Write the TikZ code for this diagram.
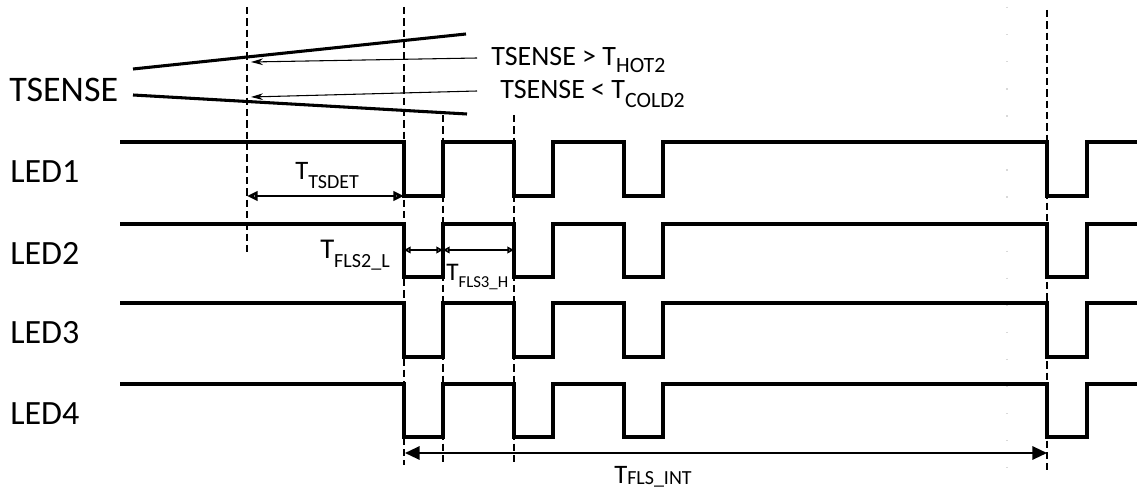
\documentclass[tikz,border=0pt]{standalone}
\usepackage{fontspec}
\setmainfont{Carlito}
\usepackage{graphicx}
\usetikzlibrary{arrows.meta}

% indice abaissé (texte en indice)
\newcommand{\indice}[3][0.55]{\raisebox{-#1ex}{\scalebox{#2}{#3}}}

\begin{document}
\begin{tikzpicture}[x=0.75pt,y=-0.75pt,
		signal/.style={line width=2.9pt},
		rampe/.style={line width=2.3pt},
		repere/.style={line width=1.1pt, dash pattern=on 5.5pt off 3pt},
		fleche/.style={line width=0.8pt, -{Stealth[length=9pt,width=5pt]}},
		cotelarge/.style={line width=2pt, {Triangle[open,length=8pt,width=7pt]}-{Triangle[open,length=8pt,width=7pt]}},
		cote/.style={line width=1.4pt, {Triangle[open,length=5pt,width=5pt]}-{Triangle[open,length=5pt,width=5pt]}},
		cotelong/.style={line width=1.6pt, {Triangle[length=11pt,width=10pt]}-{Triangle[length=11pt,width=10pt]}},
		etiq/.style={inner sep=0, anchor=base west, font=\fontsize{20}{24}\selectfont}]
		% cadre de l'image
		\useasboundingbox (0,0) rectangle (1137,491);

		% lignes de repère verticales (tirets)
		\foreach \x/\ya/\yb in {247/7/255, 404/7/465, 443/115/465, 514/115/465, 1047/10/470}{%
			\draw[repere] (\x,\ya) -- (\x,\yb);
		}
		% repère très pâle
		\draw[gray!30, line width=1pt, dash pattern=on 1pt off 19.3pt] (1007,7) -- (1007,470);

		% TSENSE : deux rampes
		\node[inner sep=0, anchor=west, font=\fontsize{27}{32}\selectfont] (tsense) at (9,90) {TSENSE};
		\draw[rampe] (133,69) -- (466,34);
		\draw[rampe] (133,95) -- (467,114);

		% seuils et flèches vers le repère
		\coordinate (hotA) at (477,58);
		\coordinate (hotB) at (251,62);
		\coordinate (coldA) at (477,91);
		\coordinate (coldB) at (251,97);
		\draw[fleche] (hotA) -- (hotB);
		\draw[fleche] (coldA) -- (coldB);
		\node[etiq, font=\fontsize{21}{25}\selectfont] (hot) at (491,66) {TSENSE > T\indice[0.45]{0.78}{HOT2}};
		\node[etiq, font=\fontsize{21}{25}\selectfont] (cold) at (500,99) {TSENSE < T\indice[0.6]{0.78}{COLD2}};

		% signaux LED1 à LED4 : nom/haut/bas
		\foreach \nom/\haut/\bas in {LED1/142/196, LED2/224/277, LED3/303/357, LED4/384/437}{%
			\pgfmathsetmacro{\milieu}{(\haut+\bas)/2+3}
			\node[inner sep=0, anchor=west, font=\fontsize{25.5}{30}\selectfont] (\nom) at (10,\milieu) {\nom};
			\draw[signal] (120,\haut) -| (404,\bas) -| (443,\haut) -| (514,\bas) -| (553,\haut)
				-| (624,\bas) -| (663,\haut) -| (1047,\bas) -| (1087,\haut) -- (1140,\haut);
		}

		% cotes de temps
		\coordinate (tsdetG) at (247,196);
		\coordinate (tsdetD) at (404,196);
		\draw[cotelarge] (tsdetG) -- (tsdetD);
		\node[etiq] (tsdet) at (295,180) {T\indice[0.7]{0.75}{TSDET}};

		\coordinate (flsA) at (404,250);
		\coordinate (flsB) at (443,250);
		\coordinate (flsC) at (514,250);
		\draw[cote] (flsA) -- (flsB);
		\draw[cote] (flsB) -- (flsC);
		\node[etiq, font=\fontsize{21.5}{25}\selectfont] (fls2) at (320,259) {T\indice[0.6]{0.7}{FLS2\_L}};
		\node[etiq, font=\fontsize{19}{23}\selectfont] (fls3) at (446,281) {T\indice[0.5]{0.66}{FLS3\_H}};

		\coordinate (intG) at (405,453);
		\coordinate (intD) at (1047,453);
		\draw[cotelong] (intG) -- (intD);
		\node[etiq] (flsint) at (614,483) {T\indice[0.1]{0.75}{FLS\_INT}};
\end{tikzpicture}
\end{document}
